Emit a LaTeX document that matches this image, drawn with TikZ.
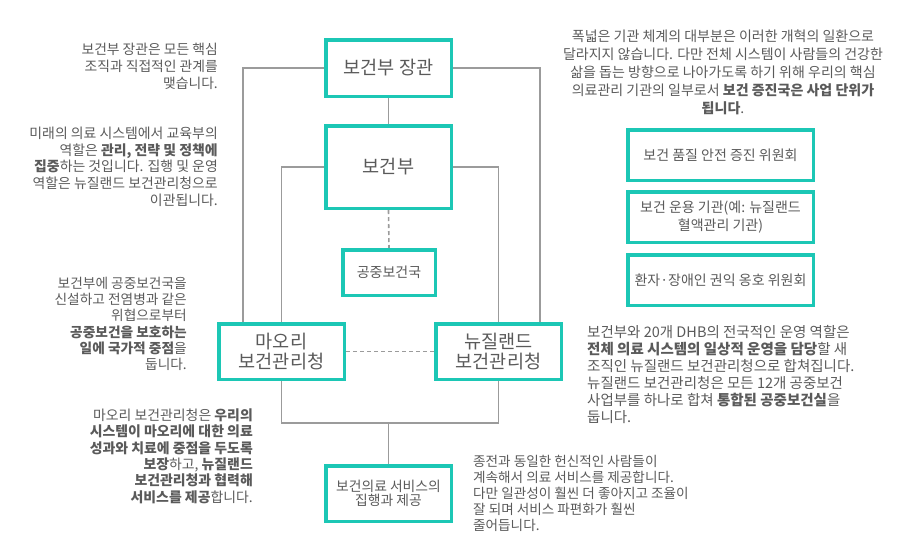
\documentclass[tikz,border=0pt]{standalone}
\usepackage{fontspec}
\setmainfont{Noto Sans CJK KR}
\usetikzlibrary{backgrounds}
\definecolor{teal1}{RGB}{28,199,181}
\definecolor{txt}{RGB}{90,90,90}
\definecolor{ln}{RGB}{155,155,155}
\tikzset{
  box/.style={draw=teal1, line width=3.5pt, fill=white, text=txt, align=center, inner sep=0pt},
  bigbox/.style={box, font=\fontsize{18.6}{20.5}\selectfont},
  smallbox/.style={box, font=\fontsize{14}{18}\selectfont},
  conn/.style={draw=ln, line width=1.6pt},
  dconn/.style={conn, dash pattern=on 4pt off 3pt},
  note/.style={text=txt, inner sep=0pt},
}
\begin{document}
\begin{tikzpicture}[x=1pt,y=-1pt]
\useasboundingbox (0,0) rectangle (915,542);
% boxes
\node[bigbox, minimum width=125.5pt, minimum height=56.5pt] (jang) at (388.5,68) {보건부 장관};
\node[bigbox, minimum width=125.5pt, minimum height=82.5pt] (mini) at (388.5,167) {보건부};
\node[smallbox, minimum width=92.5pt, minimum height=45.5pt] (pub) at (389,272.5) {공중보건국};
\node[bigbox, minimum width=125.5pt, minimum height=55.5pt] (maori) at (281.5,351.5) {마오리\\보건관리청};
\node[bigbox, minimum width=125.5pt, minimum height=55.5pt] (nz) at (498.5,351.5) {뉴질랜드\\보건관리청};
\node[smallbox, minimum width=125.5pt, minimum height=55.5pt, font=\fontsize{13.8}{14.5}\selectfont] (deliv) at (388.5,493.5) {보건의료 서비스의\\집행과 제공};
\node[smallbox, minimum width=185.5pt, minimum height=50.5pt] (r1) at (720.5,155) {보건 품질 안전 증진 위원회};
\node[smallbox, minimum width=185.5pt, minimum height=50.5pt] (r2) at (720.5,217) {보건 운용 기관(예: 뉴질랜드\\혈액관리 기관)};
\node[smallbox, minimum width=185.5pt, minimum height=50.5pt] (r3) at (720.5,280) {환자·장애인 권익 옹호 위원회};
\coordinate (J) at (388.5,423);
% connectors
\begin{scope}[on background layer]
\draw[conn] (jang.west) -| ([xshift=-38.5pt]maori.north);
\draw[conn] (jang.east) -| ([xshift=41.5pt]nz.north);
\draw[conn] (mini.west) -| (maori.north);
\draw[conn] (mini.east) -| (nz.north);
\draw[conn] (jang.south) -- (mini.north);
\draw[dconn] (mini.south) -- (pub.north);
\draw[dconn] (maori.east) -- (nz.west);
\draw[conn] (maori.south) |- (J) -| (nz.south);
\draw[conn] (J) -- (deliv.north);
\end{scope}
% notes
\node[note, anchor=east, align=right, font=\fontsize{13.8}{16.7}\selectfont] (nA) at (218,66.5) {보건부 장관은 모든 핵심\\조직과 직접적인 관계를\\맺습니다.};
\node[note, anchor=east, align=right, font=\fontsize{13.9}{16.7}\selectfont] (nB) at (218,166.5) {미래의 의료 시스템에서 교육부의\\역할은 \textbf{관리, 전략 및 정책에}\\\textbf{집중}하는 것입니다. 집행 및 운영\\역할은 뉴질랜드 보건관리청으로\\이관됩니다.};
\node[note, anchor=center, align=center, font=\fontsize{14}{17.9}\selectfont] (nC) at (723,72.5) {폭넓은 기관 체계의 대부분은 이러한 개혁의 일환으로\\달라지지 않습니다. 다만 전체 시스템이 사람들의 건강한\\삶을 돕는 방향으로 나아가도록 하기 위해 우리의 핵심\\의료관리 기관의 일부로서 \textbf{보건 증진국은 사업 단위가}\\\textbf{됩니다}.};
\node[note, anchor=east, align=right, font=\fontsize{13.7}{16.3}\selectfont] (nD) at (187,324) {보건부에 공중보건국을\\신설하고 전염병과 같은\\위협으로부터\\\textbf{공중보건을 보호하는}\\\textbf{일에 국가적 중점}을\\둡니다.};
\node[note, anchor=west, align=left, font=\fontsize{14.5}{17}\selectfont] (nE) at (587,374.5) {보건부와 20개 DHB의 전국적인 운영 역할은\\\textbf{전체 의료 시스템의 일상적 운영을 담당}할 새\\조직인 뉴질랜드 보건관리청으로 합쳐집니다.\\뉴질랜드 보건관리청은 모든 12개 공중보건\\사업부를 하나로 합쳐 \textbf{통합된 공중보건실}을\\둡니다.};
\node[note, anchor=east, align=right, font=\fontsize{13.9}{16.4}\selectfont] (nF) at (253,456) {마오리 보건관리청은 \textbf{우리의}\\\textbf{시스템이 마오리에 대한 의료}\\\textbf{성과와 치료에 중점을 두도록}\\\textbf{보장}하고, \textbf{뉴질랜드}\\\textbf{보건관리청과 협력해}\\\textbf{서비스를 제공}합니다.};
\node[note, anchor=west, align=left, font=\fontsize{13.6}{15.8}\selectfont] (nG) at (473,493.5) {종전과 동일한 헌신적인 사람들이\\계속해서 의료 서비스를 제공합니다.\\다만 일관성이 훨씬 더 좋아지고 조율이\\잘 되며 서비스 파편화가 훨씬\\줄어듭니다.};
\end{tikzpicture}
\end{document}
